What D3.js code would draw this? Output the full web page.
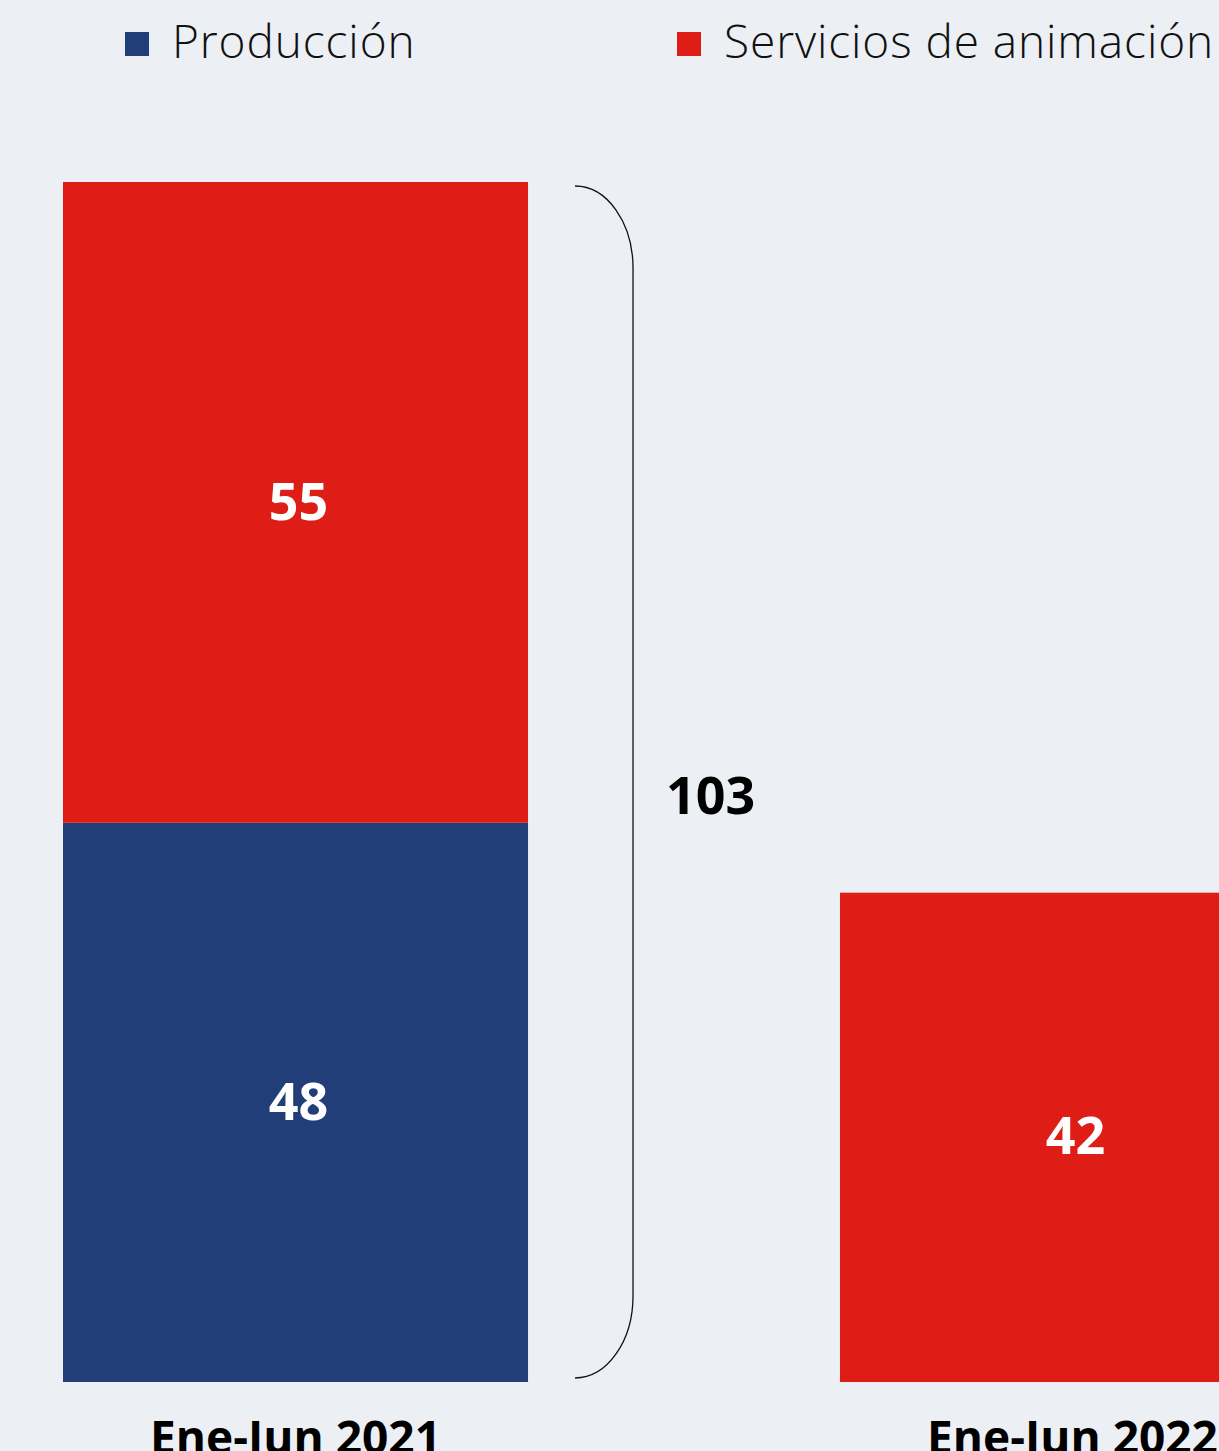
<!DOCTYPE html>
<html lang="es">
<head>
<meta charset="utf-8">
<script src="https://cdn.jsdelivr.net/npm/d3@7"></script>
<style>
  html, body { margin: 0; padding: 0; background: #eceff3; }
  svg { display: block; }
</style>
</head>
<body>
<svg id="chart" width="1219" height="1451"></svg>
<script>
// Periods on the x axis
const periods = ["Ene-Jun 2021", "Ene-Jun 2022"];
// Series (stack order: bottom first)
const seriesNames = ["Producción", "Servicios de animación"];
const produccion = [48, 0];
const servicios = [55, 42];
const seriesColors = ["#213e79", "#df1d17"];

const svg = d3.select("#chart");

const rows = periods.map((p, i) => ({
  period: p,
  "Producción": produccion[i],
  "Servicios de animación": servicios[i]
}));
const totals = rows.map(r => d3.sum(seriesNames, k => r[k]));

const stack = d3.stack().keys(seriesNames);
const layers = stack(rows);

const x = d3.scaleBand()
  .domain(periods)
  .range([63, 1305])
  .paddingInner(0.4015)
  .paddingOuter(0);

const y = d3.scaleLinear()
  .domain([0, 103])
  .range([1382, 182]);

const color = d3.scaleOrdinal().domain(seriesNames).range(seriesColors);

// Stacked bars
const g = svg.append("g");
g.selectAll("g.layer")
  .data(layers)
  .join("g")
  .attr("class", "layer")
  .attr("fill", d => color(d.key))
  .selectAll("rect")
  .data(d => d.filter(s => s[1] - s[0] > 0))
  .join("rect")
  .attr("x", d => x(d.data.period))
  .attr("width", x.bandwidth())
  .attr("y", d => y(d[1]))
  .attr("height", d => y(d[0]) - y(d[1]));

// Segment value labels
g.selectAll("g.vlabels")
  .data(layers)
  .join("g")
  .attr("class", "vlabels")
  .selectAll("text")
  .data(d => d.filter(s => s[1] - s[0] > 0))
  .join("text")
  .attr("x", d => x(d.data.period) + x.bandwidth() / 2 + 3)
  .attr("y", d => (y(d[0]) + y(d[1])) / 2)
  .attr("dy", "0.33em")
  .attr("text-anchor", "middle")
  .attr("fill", "#ffffff")
  .attr("font-family", "'Open Sans', sans-serif")
  .attr("font-weight", 700)
  .attr("font-size", 52)
  .text(d => d[1] - d[0]);

// Bracket with the total for the first period
const bx0 = x(periods[0]) + x.bandwidth() + 47;
const bx1 = bx0 + 58;
const braceTop = y(totals[0]) + 4, braceBot = y(0) - 4;
const ry = 82, k = 0.5523;
const bracePath = d3.path();
bracePath.moveTo(bx0, braceTop);
bracePath.bezierCurveTo(bx0 + 58 * k, braceTop, bx1, braceTop + ry - ry * k, bx1, braceTop + ry);
bracePath.lineTo(bx1, braceBot - ry);
bracePath.bezierCurveTo(bx1, braceBot - ry + ry * k, bx0 + 58 * k, braceBot, bx0, braceBot);
svg.append("path")
  .attr("d", bracePath.toString())
  .attr("fill", "none")
  .attr("stroke", "#111")
  .attr("stroke-width", 1.3);

svg.append("text")
  .attr("x", bx1 + 33)
  .attr("y", (braceTop + braceBot) / 2 + 13)
  .attr("dy", "0.36em")
  .attr("fill", "#000")
  .attr("font-family", "'Open Sans', sans-serif")
  .attr("font-weight", 700)
  .attr("font-size", 52)
  .text(totals[0]);

// Period labels along the bottom
const xAxis = d3.axisBottom(x).tickSize(0).tickPadding(0);
const ax = svg.append("g")
  .attr("transform", `translate(0,${y(0)})`)
  .call(xAxis);
ax.select(".domain").remove();
ax.selectAll("text")
  .attr("dy", null)
  .attr("y", 72)
  .attr("fill", "#000")
  .attr("font-family", "'Open Sans', sans-serif")
  .attr("font-weight", 700)
  .attr("font-size", 46);

// Legend
const legendX = [125, 677];
const legend = svg.append("g")
  .selectAll("g")
  .data(seriesNames)
  .join("g")
  .attr("transform", (d, i) => `translate(${legendX[i]},32)`);
legend.append("rect")
  .attr("width", 24)
  .attr("height", 24)
  .attr("fill", d => color(d));
legend.append("text")
  .attr("x", 47)
  .attr("y", 26)
  .attr("fill", "#111")
  .attr("font-family", "'Open Sans', sans-serif")
  .attr("font-weight", 300)
  .attr("font-size", 46)
  .attr("letter-spacing", 0.9)
  .text(d => d);
</script>
</body>
</html>
